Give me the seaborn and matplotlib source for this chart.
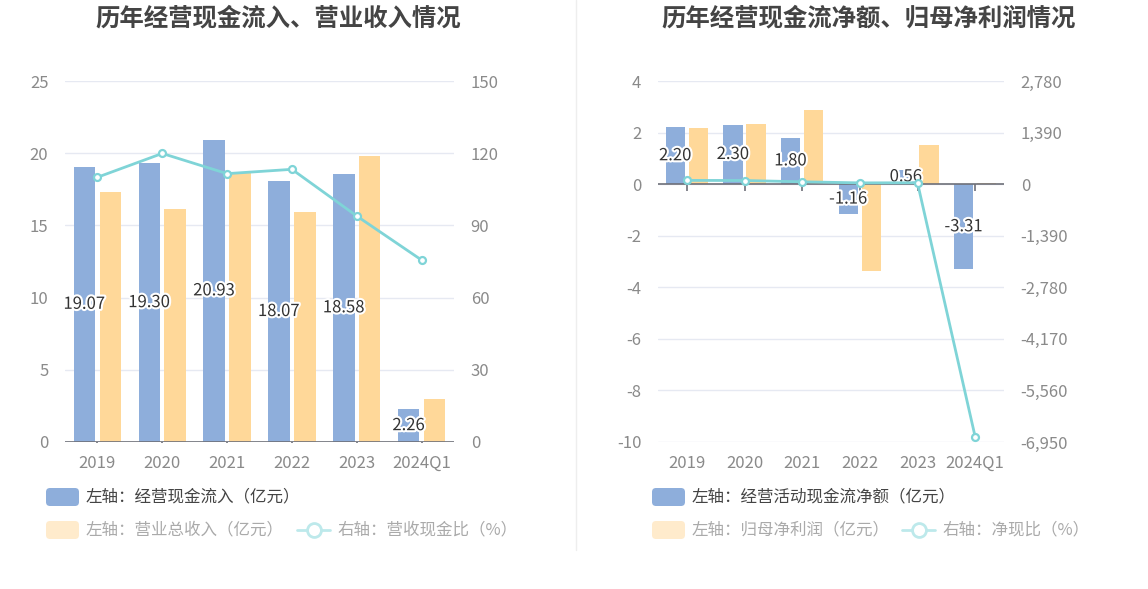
import numpy as np
import pandas as pd
import matplotlib
matplotlib.use("Agg")
import matplotlib.pyplot as plt
import matplotlib.patheffects as pe
from matplotlib.patches import FancyBboxPatch
from matplotlib.lines import Line2D
from matplotlib.ticker import FuncFormatter
import seaborn as sns

# ---------------- data ----------------
categories = ['2019', '2020', '2021', '2022', '2023', '2024Q1']
# left chart
cash_inflow = [19.07, 19.30, 20.93, 18.07, 18.58, 2.26]      # 经营现金流入（亿元）
total_revenue = [17.33, 16.11, 18.70, 15.95, 19.78, 2.98]    # 营业总收入（亿元）
cash_revenue_ratio = [110.0, 119.9, 111.5, 113.3, 93.9, 75.6]  # 营收现金比（%）
# right chart
net_cash_flow = [2.20, 2.30, 1.80, -1.16, 0.56, -3.31]       # 经营活动现金流净额（亿元）
net_profit = [2.18, 2.35, 2.87, -3.37, 1.51, 0.05]           # 归母净利润（亿元）
net_cash_ratio = [101, 98, 63, 34, 37, -6810]                # 净现比（%）

left_ticks = [0, 5, 10, 15, 20, 25]
left_right_ticks = [0, 30, 60, 90, 120, 150]
right_ticks = [-10, -8, -6, -4, -2, 0, 2, 4]
right_right_ticks = [-6950, -5560, -4170, -2780, -1390, 0, 1390, 2780]

# ---------------- style ----------------
BLUE = '#8eaedb'
ORANGE = '#ffd899'
TEAL = '#7fd4d7'
PALE_ORANGE = '#ffebcc'
PALE_TEAL = '#bde9eb'
GRID = '#e6e9f2'
AXIS = '#6e7079'
TICKC = '#8a8a8a'

sns.set_theme(style='white')
plt.rcParams['font.family'] = ['Noto Sans CJK SC', 'DejaVu Sans']
plt.rcParams['axes.unicode_minus'] = False

W, H = 1148, 589
fig = plt.figure(figsize=(W / 100, H / 100), dpi=100)


def px_axes(x0, y0, x1, y1):
    return fig.add_axes([x0 / W, 1 - y1 / H, (x1 - x0) / W, (y1 - y0) / H])


def draw_chart(ax, blue_vals, orange_vals, ratio_vals, lticks, rticks, rfmt):
    df = pd.DataFrame({
        'year': categories * 2,
        'value': list(blue_vals) + list(orange_vals),
        'series': ['a'] * len(categories) + ['b'] * len(categories),
    })
    sns.barplot(data=df, x='year', y='value', hue='series', order=categories,
                hue_order=['a', 'b'], palette=[BLUE, ORANGE], saturation=1,
                width=0.8, gap=0.17, linewidth=0, legend=False, ax=ax, zorder=2)
    ax.set_xlim(-0.5, len(categories) - 0.5)
    ax.set_ylim(lticks[0], lticks[-1])
    ax.set_yticks(lticks)
    ax.yaxis.grid(True, color=GRID, lw=1, zorder=0)
    ax.xaxis.grid(False)
    ax.set_axisbelow(True)
    for s in ['top', 'left', 'right', 'bottom']:
        ax.spines[s].set_visible(False)
    ax.set_xlabel('')
    ax.set_ylabel('')
    ax.tick_params(axis='y', length=0, pad=12, labelcolor=TICKC, labelsize=12)
    ax.tick_params(axis='x', length=0, pad=9, labelcolor=TICKC, labelsize=12)
    # zero / base axis line with ticks
    ax.axhline(0, color=AXIS, lw=1.2, zorder=3)
    ax.plot(range(len(categories)), [0] * len(categories), ls='none', marker=3,
            ms=5, mew=1.2, color=AXIS, zorder=3)

    labels = ax.bar_label(ax.containers[0], labels=[f'{v:.2f}' for v in blue_vals],
                          label_type='center', fontsize=12, color='#333333', zorder=6)
    for t in labels:
        t.set_path_effects([pe.withStroke(linewidth=3, foreground='white')])

    ax2 = ax.twinx()
    sns.lineplot(x=np.arange(len(categories)), y=ratio_vals, ax=ax2, color=TEAL,
                 lw=2, marker='o', markersize=5, markerfacecolor='white',
                 markeredgecolor=TEAL, markeredgewidth=1.6, zorder=5)
    ax2.set_ylim(rticks[0], rticks[-1])
    ax2.set_yticks(rticks)
    ax2.yaxis.set_major_formatter(FuncFormatter(rfmt))
    ax2.grid(False)
    for s in ['top', 'left', 'right', 'bottom']:
        ax2.spines[s].set_visible(False)
    ax2.tick_params(axis='y', length=0, pad=12, labelcolor=TICKC, labelsize=12)
    ax2.set_ylabel('')
    return ax2


# left chart
axL = px_axes(65, 81, 454, 442)
draw_chart(axL, cash_inflow, total_revenue, cash_revenue_ratio, left_ticks,
           left_right_ticks, lambda v, p: f'{v:.0f}')

# right chart
axR = px_axes(658, 81, 1004, 442)
draw_chart(axR, net_cash_flow, net_profit, net_cash_ratio, right_ticks,
           right_right_ticks, lambda v, p: f'{v:,.0f}')

# titles
fig.text(278 / W, 1 - 18 / H, '历年经营现金流入、营业收入情况', ha='center', va='center',
         fontsize=17.6, fontweight='bold', color='#444444')
fig.text(869 / W, 1 - 18 / H, '历年经营现金流净额、归母净利润情况', ha='center', va='center',
         fontsize=17.6, fontweight='bold', color='#444444')

# separator
fig.add_artist(Line2D([576 / W, 576 / W], [1 - 0 / H, 1 - 550 / H], color='#eeeeee', lw=1))


# legends
def leg_patch(x, y, color):
    fig.add_artist(FancyBboxPatch((x / 100, (H - y - 9) / 100), 0.33, 0.18,
                                  boxstyle='round,pad=0,rounding_size=0.04',
                                  transform=fig.dpi_scale_trans, fc=color, ec='none'))


def leg_line(x, y, color):
    fig.add_artist(Line2D([x / 100, (x + 33) / 100], [(H - y) / 100] * 2,
                          transform=fig.dpi_scale_trans, color=color, lw=2))
    fig.add_artist(Line2D([(x + 16.5) / 100], [(H - y) / 100], transform=fig.dpi_scale_trans,
                          marker='o', ms=10, mfc='white', mec=color, mew=2))


def leg_text(x, y, s, color):
    fig.text(x / W, 1 - y / H, s, ha='left', va='center', fontsize=11.9, color=color)


leg_patch(46, 497, BLUE)
leg_text(86, 497, '左轴：经营现金流入（亿元）', '#444444')
leg_patch(46, 530, PALE_ORANGE)
leg_text(86, 530, '左轴：营业总收入（亿元）', '#aaaaaa')
leg_line(297, 530, PALE_TEAL)
leg_text(337, 530, '右轴：营收现金比（%）', '#aaaaaa')

leg_patch(652, 497, BLUE)
leg_text(692, 497, '左轴：经营活动现金流净额（亿元）', '#444444')
leg_patch(652, 530, PALE_ORANGE)
leg_text(692, 530, '左轴：归母净利润（亿元）', '#aaaaaa')
leg_line(902, 530, PALE_TEAL)
leg_text(942, 530, '右轴：净现比（%）', '#aaaaaa')

fig.savefig('out.png', dpi=100, facecolor='white')
